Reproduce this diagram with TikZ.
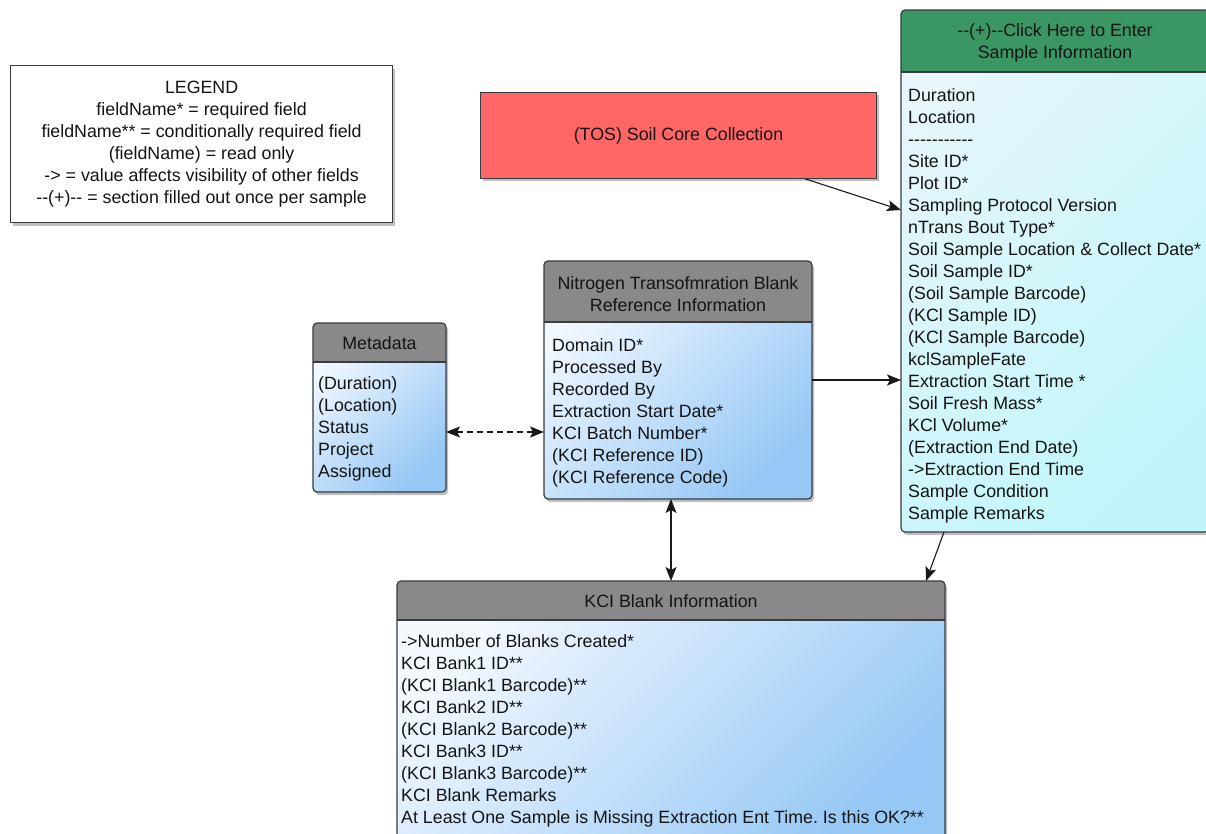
\documentclass[tikz,border=0pt]{standalone}
\usepackage{fontspec}
\setmainfont{Liberation Sans}[Ligatures=TeXOff]
\usetikzlibrary{arrows.meta,shadows}
\frenchspacing

\definecolor{hdrgray}{RGB}{137,137,137}
\definecolor{hdrgreen}{RGB}{58,150,98}
\definecolor{tosred}{RGB}{255,102,102}
\definecolor{bluelight}{RGB}{244,249,255}
\definecolor{bluedark}{RGB}{150,200,245}
\definecolor{cyanlight}{RGB}{230,246,252}
\definecolor{cyandark}{RGB}{192,246,250}
\definecolor{edge}{RGB}{55,60,65}

\tikzset{
  txt/.style={font=\fontsize{17.8}{22}\selectfont, text=black!92},
  softshadow/.style={drop shadow={shadow xshift=2pt, shadow yshift=-3pt, fill=black, opacity=0.25}},
  entity/.style={rounded corners=4pt, inner sep=0pt, outer sep=0pt, anchor=north west, softshadow},
  bluebody/.style={entity, top color=bluelight, bottom color=bluedark, shading angle=45},
  cyanbody/.style={entity, top color=cyanlight, bottom color=cyandark, shading angle=45},
  title/.style={txt, align=center, inner sep=0pt},
  fields/.style={txt, align=left, inner sep=0pt, anchor=north west},
  boxline/.style={draw=edge, line width=1.2pt},
  link/.style={draw=black!90, line width=1.1pt},
}

\begin{document}
\begin{tikzpicture}[x=1pt,y=-1pt,>={Stealth[length=14pt,width=11pt,inset=3pt]}]
\useasboundingbox (0,0) rectangle (1206,834);

% legend
\node[txt, boxline, fill=white, align=center, anchor=north west,
  minimum width=382pt, minimum height=157pt, softshadow] (legend) at (10,65)
  {LEGEND\\fieldName* = required field\\fieldName** = conditionally required field\\(fieldName) = read only\\-> = value affects visibility of other fields\\--(+)-- = section filled out once per sample};

% soil core collection
\node[txt, fill=tosred, draw=edge, line width=1pt, anchor=north west,
  minimum width=396pt, minimum height=86pt, softshadow] (tos) at (480,92) {(TOS) Soil Core Collection};

% entity boxes
\node[bluebody, minimum width=133pt, minimum height=169pt] (meta) at (313,323) {};
\node[bluebody, minimum width=268pt, minimum height=238pt] (nitro) at (544,261) {};
\node[bluebody, minimum width=548pt, minimum height=262pt] (kcl) at (397,581) {};
\node[cyanbody, minimum width=308pt, minimum height=522pt] (sample) at (901,10) {};

% headers and outlines
\foreach \e/\h/\c in {meta/39/hdrgray, nitro/61/hdrgray, kcl/39/hdrgray, sample/62/hdrgreen}{
  \begin{scope}
    \clip[rounded corners=4pt] (\e.north west) rectangle (\e.south east);
    \fill[\c] (\e.north west) rectangle ([yshift=-\h pt]\e.north east);
  \end{scope}
  \draw[boxline] ([yshift=-\h pt]\e.north west) -- ([yshift=-\h pt]\e.north east);
  \draw[boxline, rounded corners=4pt] (\e.north west) rectangle (\e.south east);
}

\node[title] (metatitle) at ([yshift=-19.7pt]meta.north) {Metadata};
\node[title] (nitrotitle) at ([yshift=-33pt]nitro.north) {Nitrogen Transofmration Blank\\Reference Information};
\node[title] (kcltitle) at ([yshift=-20pt]kcl.north) {KCI Blank Information};
\node[title] (sampletitle) at ([yshift=-32.5pt]sample.north) {--(+)--Click Here to Enter\\Sample Information};

\node[fields] (metafields) at ([xshift=5pt,yshift=-51pt]meta.north west)
  {\strut(Duration)\\(Location)\\Status\\Project\\Assigned};
\node[fields] (nitrofields) at ([xshift=8pt,yshift=-75pt]nitro.north west)
  {\strut Domain ID*\\Processed By\\Recorded By\\Extraction Start Date*\\KCI Batch Number*\\(KCI Reference ID)\\(KCI Reference Code)};
\node[fields] (kclfields) at ([xshift=4pt,yshift=-51pt]kcl.north west)
  {\strut->Number of Blanks Created*\\KCI Bank1 ID**\\(KCI Blank1 Barcode)**\\KCI Bank2 ID**\\(KCI Blank2 Barcode)**\\KCI Bank3 ID**\\(KCI Blank3 Barcode)**\\KCI Blank Remarks\\At Least One Sample is Missing Extraction Ent Time. Is this OK?**};
\node[fields] (samplefields) at ([xshift=7pt,yshift=-76pt]sample.north west)
  {\strut Duration\\Location\\-----------\\Site ID*\\Plot ID*\\Sampling Protocol Version\\nTrans Bout Type*\\Soil Sample Location \& Collect Date*\\Soil Sample ID*\\(Soil Sample Barcode)\\(KCl Sample ID)\\(KCl Sample Barcode)\\kclSampleFate\\Extraction Start Time *\\Soil Fresh Mass*\\KCl Volume*\\(Extraction End Date)\\->Extraction End Time\\Sample Condition\\Sample Remarks};

% connectors
\draw[link, ->] ([xshift=127pt]tos.south) -- ([yshift=61pt]sample.west);
\draw[link, ->] (nitro.east) -- (nitro.east -| sample.west);
\draw[link, <->, dash pattern=on 6pt off 4pt] ([yshift=-24.5pt]meta.east) -- ([yshift=-24.5pt]meta.east -| nitro.west);
\draw[link, <->] ([xshift=-7pt]nitro.south) -- ([xshift=-7pt]nitro.south |- kcl.north);
\draw[link, ->] ([xshift=43pt]sample.south west) -- ([xshift=-19pt]kcl.north east);
\end{tikzpicture}
\end{document}
